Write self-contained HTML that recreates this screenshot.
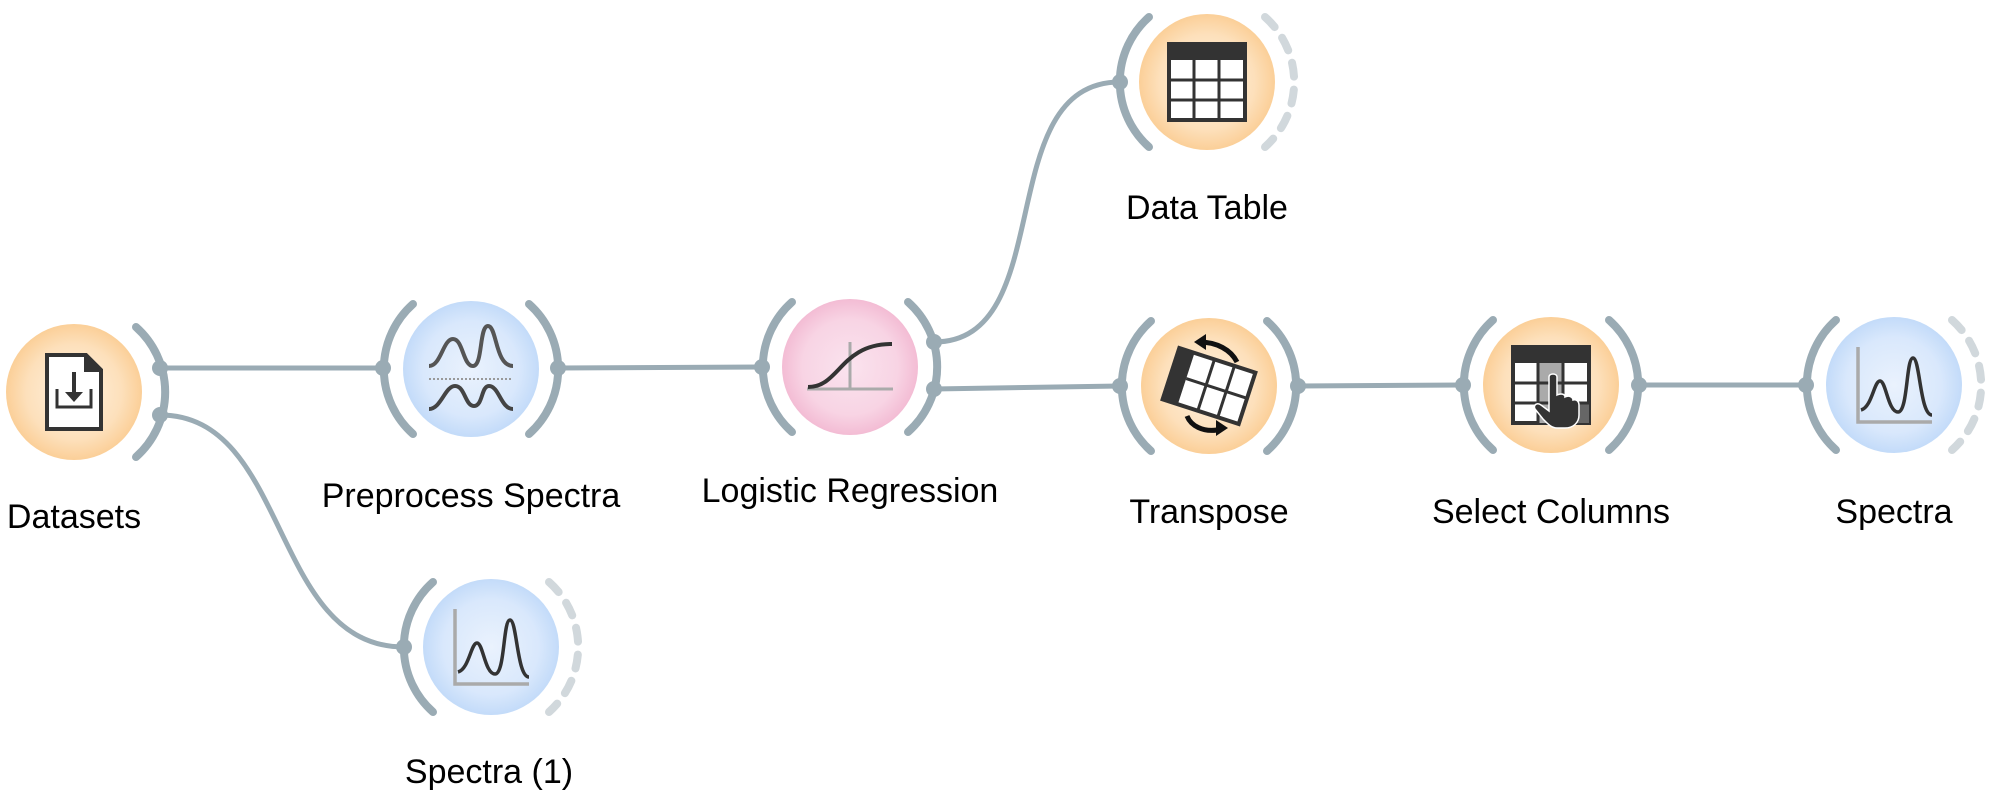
<!DOCTYPE html>
<html><head><meta charset="utf-8"><style>
html,body{margin:0;padding:0;background:#fff;width:1998px;height:803px;overflow:hidden}
svg{display:block}
text{font-family:"Liberation Sans",sans-serif;font-size:34px;fill:#000;text-anchor:middle}
</style></head><body>
<svg width="1998" height="803" viewBox="0 0 1998 803" xmlns="http://www.w3.org/2000/svg">
<defs>
<radialGradient id="or" cx="50%" cy="50%" r="50%"><stop offset="0" stop-color="#fef1e1"/><stop offset="0.7" stop-color="#fde0bb"/><stop offset="1" stop-color="#fbcf98"/></radialGradient>
<radialGradient id="bl" cx="50%" cy="50%" r="50%"><stop offset="0" stop-color="#eaf2fd"/><stop offset="0.7" stop-color="#d9e8fc"/><stop offset="1" stop-color="#c3dbf9"/></radialGradient>
<radialGradient id="pk" cx="50%" cy="50%" r="50%"><stop offset="0" stop-color="#fae3ee"/><stop offset="0.7" stop-color="#f8d4e4"/><stop offset="1" stop-color="#f3bcd4"/></radialGradient>
</defs>
<g fill="none" stroke="#9aabb4" stroke-width="5">
<path d="M160 368 L383 368"/>
<path d="M558 368 L762 367"/>
<path d="M934 389 L1120 386"/>
<path d="M1298 386 L1463 385"/>
<path d="M1639 385 L1806 385"/>
<path d="M160 415 C 290 415, 270 647, 404 647"/>
<path d="M934 342 C 1060 342, 990 82, 1120 82"/>
</g>
<g fill="none" stroke="#9aabb4" stroke-width="8" stroke-linecap="round">
<path d="M136 327 A87 87 0 0 1 136 457"/>
<path d="M413 304 A87 87 0 0 0 413 434"/>
<path d="M529 304 A87 87 0 0 1 529 434"/>
<path d="M433 582 A87 87 0 0 0 433 712"/>
<path d="M792 302 A87 87 0 0 0 792 432"/>
<path d="M908 302 A87 87 0 0 1 908 432"/>
<path d="M1149 17 A87 87 0 0 0 1149 147"/>
<path d="M1151 321 A87 87 0 0 0 1151 451"/>
<path d="M1267 321 A87 87 0 0 1 1267 451"/>
<path d="M1493 320 A87 87 0 0 0 1493 450"/>
<path d="M1609 320 A87 87 0 0 1 1609 450"/>
<path d="M1836 320 A87 87 0 0 0 1836 450"/>
</g>
<g fill="none" stroke="#d1d8dc" stroke-width="8" stroke-linecap="round" stroke-dasharray="14 13">
<path d="M549 582 A87 87 0 0 1 549 712"/>
<path d="M1265 17 A87 87 0 0 1 1265 147"/>
<path d="M1952 320 A87 87 0 0 1 1952 450"/>
</g>
<g fill="#9aabb4">
<circle cx="160" cy="368" r="8"/><circle cx="160" cy="415" r="8"/>
<circle cx="383" cy="368" r="8"/><circle cx="558" cy="368" r="8"/>
<circle cx="404" cy="647" r="8"/>
<circle cx="762" cy="367" r="8"/><circle cx="934" cy="342" r="8"/><circle cx="934" cy="389" r="8"/>
<circle cx="1120" cy="82" r="8"/>
<circle cx="1120" cy="386" r="8"/><circle cx="1298" cy="386" r="8"/>
<circle cx="1463" cy="385" r="8"/><circle cx="1639" cy="385" r="8"/>
<circle cx="1806" cy="385" r="8"/>
</g>
<circle cx="74" cy="392" r="68" fill="url(#or)"/>
<circle cx="471" cy="369" r="68" fill="url(#bl)"/>
<circle cx="491" cy="647" r="68" fill="url(#bl)"/>
<circle cx="850" cy="367" r="68" fill="url(#pk)"/>
<circle cx="1207" cy="82" r="68" fill="url(#or)"/>
<circle cx="1209" cy="386" r="68" fill="url(#or)"/>
<circle cx="1551" cy="385" r="68" fill="url(#or)"/>
<circle cx="1894" cy="385" r="68" fill="url(#bl)"/>
<g transform="translate(74,392)">
<path d="M-27 -37 H12 L27 -22 V37 H-27 Z" fill="#fff" stroke="#333" stroke-width="4"/>
<path d="M10 -37 L27 -20 L10 -20 Z" fill="#333"/>
<path d="M-17 -3 V15 H17 V-3" fill="none" stroke="#333" stroke-width="3"/>
<path d="M0 -20 V5" stroke="#333" stroke-width="4"/>
<path d="M-9 0 L0 10 L9 0 Z" fill="#333"/>
</g>
<g transform="translate(471,369)" fill="none" stroke="#444" stroke-width="4">
<path d="M-42 -3 C-30 -3,-28 -30,-18 -30 C-8 -30,-8 -3,2 -3 C12 -3,8 -43,17 -43 C26 -43,24 -3,42 -3" stroke="#555"/>
<path d="M-42 40 C-30 40,-26 17,-16 17 C-6 17,-6 37,3 37 C12 37,10 17,18 17 C28 17,30 40,42 40"/>
<path d="M-42 10 H42" stroke="#999" stroke-width="2" stroke-dasharray="2 2"/>
</g>
<g transform="translate(491,647)" fill="none">
<path d="M-36 -38 V37 H38" stroke="#aaa" stroke-width="3.5"/>
<path d="M-33 25 C-22 22,-20 -4,-14 -4 C-8 -4,-6 27,4 27 C14 27,12 -27,19 -27 C26 -27,26 30,38 30" stroke="#333" stroke-width="3.5"/>
</g>
<g transform="translate(1894,385)" fill="none">
<path d="M-36 -38 V37 H38" stroke="#aaa" stroke-width="3.5"/>
<path d="M-33 25 C-22 22,-20 -4,-14 -4 C-8 -4,-6 27,4 27 C14 27,12 -27,19 -27 C26 -27,26 30,38 30" stroke="#333" stroke-width="3.5"/>
</g>
<g transform="translate(850,367)" fill="none">
<path d="M0 -25 V22 M-43 22 H43" stroke="#aaa" stroke-width="3"/>
<path d="M-42 20 C-10 20,-10 -23,42 -23" stroke="#333" stroke-width="4"/>
</g>
<g transform="translate(1207,82)">
<rect x="-38" y="-38" width="76" height="76" fill="#fff" stroke="#333" stroke-width="4"/>
<rect x="-38" y="-38" width="76" height="16" fill="#333"/>
<path d="M-38 -2 H38 M-38 18 H38 M-13 -22 V38 M12 -22 V38" stroke="#333" stroke-width="3"/>
</g>
<g transform="translate(1209,386) rotate(18)">
<rect x="-40" y="-27" width="80" height="54" fill="#fff" stroke="#333" stroke-width="4"/>
<rect x="-40" y="-27" width="16" height="54" fill="#333"/>
<path d="M-24 0 H40 M-3 -27 V27 M18 -27 V27" stroke="#333" stroke-width="3"/>
</g>
<g transform="translate(1209,386)" fill="none" stroke="#111" stroke-width="5">
<path d="M-10 -44 C8 -44,22 -36,28 -24"/>
<path d="M-22 30 C-18 40,-6 46,8 44"/>
</g>
<polygon points="1194,342 1206,334 1206,350" fill="#111"/>
<polygon points="1228,428 1216,420 1216,436" fill="#111"/>
<g transform="translate(1551,385)">
<rect x="-38" y="-38" width="76" height="76" fill="#fff" stroke="#333" stroke-width="4"/>
<rect x="-38" y="-38" width="76" height="16" fill="#333"/>
<rect x="-13" y="-22" width="25" height="60" fill="#aaa"/>
<rect x="12" y="18" width="26" height="20" fill="#666"/>
<path d="M-38 -2 H38 M-38 18 H38 M-13 -22 V38 M12 -22 V38" stroke="#333" stroke-width="3"/>
<path d="M-2 -8 C-2 -12,6 -12,6 -8 V10 C10 8,14 9,14 12 C18 10,22 12,22 15 C26 14,28 17,28 20 V30 C28 38,22 43,14 43 H6 C0 43,-4 38,-8 34 L-16 24 C-18 20,-14 17,-10 20 L-2 26 Z" fill="#333" stroke="#fff" stroke-width="1.5"/>
</g>
<text x="74" y="528">Datasets</text>
<text x="471" y="507">Preprocess Spectra</text>
<text x="489" y="783">Spectra (1)</text>
<text x="850" y="502">Logistic Regression</text>
<text x="1207" y="219">Data Table</text>
<text x="1209" y="523">Transpose</text>
<text x="1551" y="523">Select Columns</text>
<text x="1894" y="523">Spectra</text>
</svg>
</body></html>
